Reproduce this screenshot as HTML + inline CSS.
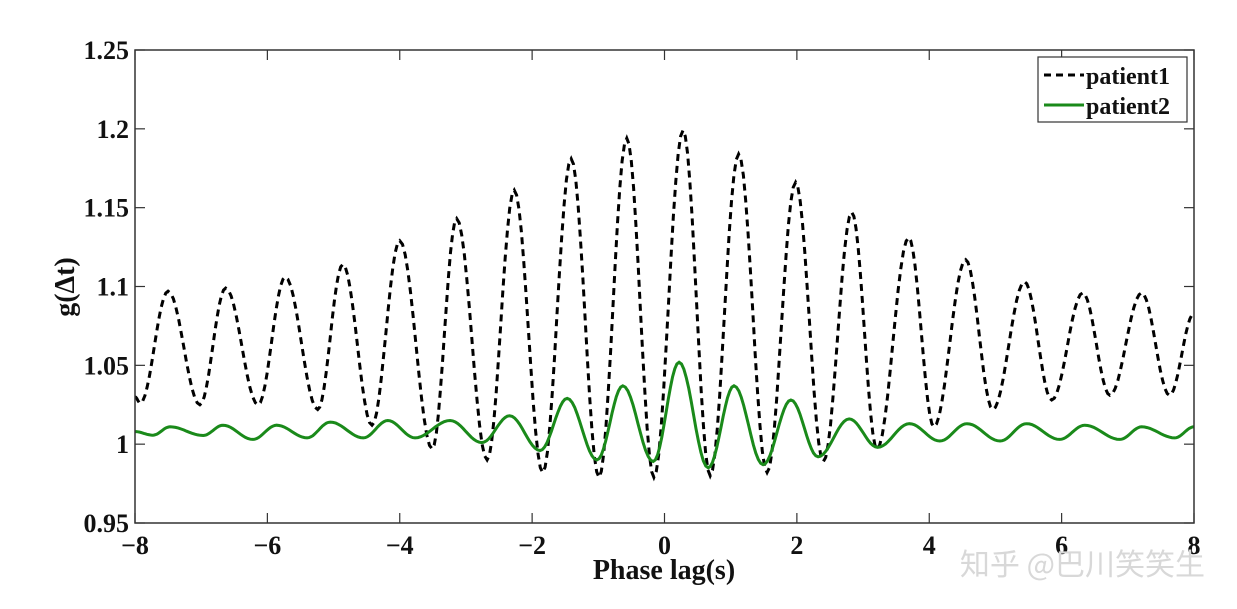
<!DOCTYPE html>
<html><head><meta charset="utf-8"><style>
html,body{margin:0;padding:0;background:#fff;}
svg{display:block;}
text{font-family:"Liberation Serif",serif;font-weight:bold;fill:#111;}
</style></head><body>
<svg id="chart" width="1237" height="609" viewBox="0 0 1237 609" xmlns="http://www.w3.org/2000/svg">
<g id="axes"></g>
<g id="series"></g>
<rect x="135" y="50" width="1059" height="473" fill="none" stroke="#333" stroke-width="1.5"/>
<g>
<rect x="1038" y="57" width="149" height="65" fill="#fff" stroke="#333" stroke-width="1.2"/>
<line x1="1044" y1="75" x2="1084" y2="75" stroke="#000" stroke-width="3" stroke-dasharray="7,5"/>
<text x="1086" y="84" font-size="24">patient1</text>
<line x1="1044" y1="105" x2="1084" y2="105" stroke="#1a8a1a" stroke-width="3"/>
<text x="1086" y="114" font-size="24">patient2</text>
</g>
<text x="664" y="579" font-size="28" text-anchor="middle">Phase lag(s)</text>
<text transform="translate(74,287) rotate(-90)" font-size="28" text-anchor="middle">g(Δt)</text>
<text x="1205" y="575" font-size="30" text-anchor="end" style="font-family:'Noto Sans CJK SC',sans-serif;font-weight:normal;fill:#d8d8d8">知乎 @巴川笑笑生</text>
</svg>
<script>
const xTicks=[-8,-6,-4,-2,0,2,4,6,8];
const xTickLabels=["−8","−6","−4","−2","0","2","4","6","8"];
const yTicks=[0.95,1,1.05,1.1,1.15,1.2,1.25];
const yTickLabels=["0.95","1","1.05","1.1","1.15","1.2","1.25"];
// extrema (x, value) of each series
const p1X=[-8,-7.92,-7.5,-7.02,-6.63,-6.14,-5.73,-5.24,-4.86,-4.42,-4.0,-3.51,-3.14,-2.68,-2.27,-1.84,-1.41,-0.99,-0.57,-0.16,0.28,0.69,1.12,1.55,1.98,2.4,2.83,3.21,3.69,4.07,4.55,4.96,5.44,5.85,6.32,6.73,7.21,7.63,8];
const p1Y=[1.03,1.026,1.097,1.025,1.099,1.025,1.106,1.022,1.114,1.012,1.129,0.997,1.143,0.99,1.161,0.982,1.181,0.979,1.194,0.979,1.199,0.98,1.184,0.982,1.166,0.989,1.147,0.997,1.131,1.011,1.117,1.022,1.103,1.028,1.096,1.031,1.096,1.031,1.083];
const p2X=[-8,-7.73,-7.47,-6.97,-6.67,-6.22,-5.86,-5.4,-5.05,-4.55,-4.18,-3.77,-3.24,-2.76,-2.34,-1.88,-1.47,-1.02,-0.63,-0.17,0.22,0.66,1.05,1.49,1.91,2.32,2.79,3.22,3.7,4.16,4.57,5.07,5.47,5.97,6.35,6.88,7.21,7.71,8];
const p2Y=[1.008,1.0057,1.011,1.0055,1.012,1.003,1.012,1.004,1.014,1.004,1.015,1.004,1.015,1.001,1.018,0.996,1.029,0.99,1.037,0.989,1.052,0.985,1.037,0.987,1.028,0.992,1.016,0.998,1.013,1.002,1.013,1.002,1.013,1.003,1.012,1.003,1.011,1.004,1.011];
const X0=135,X1=1194,Y0=523,Y1=50;
const sx=v=>X0+(v+8)/16*(X1-X0);
const sy=v=>Y0-(v-0.95)/0.3*(Y0-Y1);
const NS="http://www.w3.org/2000/svg";
const axes=document.getElementById('axes');
function mk(t,a){const e=document.createElementNS(NS,t);for(const k in a)e.setAttribute(k,a[k]);return e;}
xTicks.forEach((v,i)=>{
 const x=sx(v);
 const t1=mk('line',{x1:x,y1:Y0,x2:x,y2:Y0-10,stroke:'#333','stroke-width':1.2});
 
 
 axes.appendChild(t1);
 const t2=mk('line',{x1:x,y1:Y1,x2:x,y2:Y1+10,stroke:'#333','stroke-width':1.2});
 
 
 axes.appendChild(t2);
 const l=mk('text',{x:x,y:554,'font-size':26,'text-anchor':'middle'});
 l.textContent=xTickLabels[i];
 
 
 axes.appendChild(l);
});
yTicks.forEach((v,i)=>{
 const y=sy(v);
 const t1=mk('line',{x1:X0,y1:y,x2:X0+10,y2:y,stroke:'#333','stroke-width':1.2});
 
 
 axes.appendChild(t1);
 const t2=mk('line',{x1:X1,y1:y,x2:X1-10,y2:y,stroke:'#333','stroke-width':1.2});
 
 
 axes.appendChild(t2);
 const l=mk('text',{x:129,y:y+9,'font-size':26,'text-anchor':'end'});
 l.textContent=yTickLabels[i];
 
 
 axes.appendChild(l);
});
function path(xs,ys){
 let d='M'+sx(xs[0]).toFixed(1)+','+sy(ys[0]).toFixed(1);
 for(let i=0;i<xs.length-1;i++){
  for(let k=1;k<=12;k++){
   const t=k/12,w=(1-Math.cos(Math.PI*t))/2;
   const x=xs[i]+(xs[i+1]-xs[i])*t,y=ys[i]+(ys[i+1]-ys[i])*w;
   d+=' L'+sx(x).toFixed(1)+','+sy(y).toFixed(1);
  }
 }
 return d;
}
const g=document.getElementById('series');
const s1=mk('path',{d:path(p1X,p1Y),fill:'none',stroke:'#000','stroke-width':3,'stroke-dasharray':'7,5'});


g.appendChild(s1);
const s2=mk('path',{d:path(p2X,p2Y),fill:'none',stroke:'#1a8a1a','stroke-width':3});


g.appendChild(s2);
</script>
</body></html>
